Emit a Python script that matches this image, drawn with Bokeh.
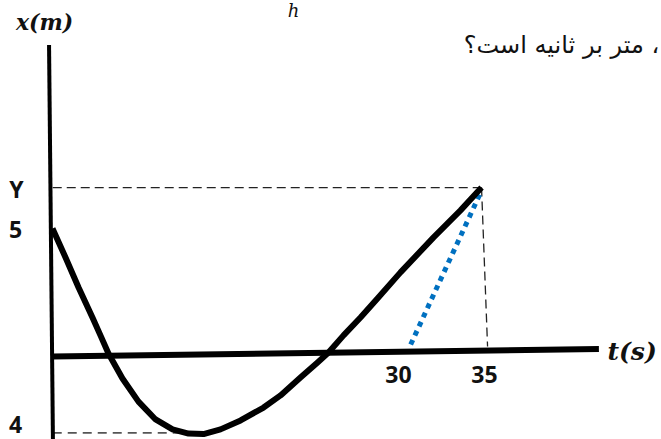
from bokeh.plotting import figure
from bokeh.models import Range1d
from bokeh.embed import file_html
from bokeh.resources import INLINE
from bokeh.core.properties import value

# ---- data (t in s, x in m) ----
curve_t = [0.08, 1.14, 2.20, 3.33, 3.98, 4.63, 5.77, 7.07, 8.46, 9.84, 11.14, 12.36, 13.74,
           15.37, 17.24, 18.62, 20.24, 21.63, 22.52, 23.74, 25.12, 26.50, 28.37, 31.06,
           33.25, 34.96]
curve_x = [5.00, 3.83, 2.62, 1.41, 0.69, -0.04, -1.05, -1.98, -2.70, -3.10, -3.27, -3.29, -3.10,
           -2.74, -2.22, -1.73, -1.01, -0.40, 0.00, 0.69, 1.41, 2.18, 3.23, 4.64,
           5.73, 6.65]

t_axis_t = [0.08, 44.5]
t_axis_x = [-0.16, 0.14]
x_axis_t = [-0.2, 0.12]
x_axis_x = [12.4, -3.7]

y_guide_t = [0.1, 34.96]
y_guide_x = [6.65, 6.65]
end_guide_t = [34.96, 35.45]
end_guide_x = [6.65, 0.24]
min_guide_t = [0.1, 11.3]
min_guide_x = [-3.24, -3.24]

secant_t = [29.2, 34.96]
secant_x = [0.32, 6.53]

tick_labels = ["Y", "5", "4", "30", "35"]
tick_label_t = [-2.85, -2.93, -2.93, 28.2, 35.2]
tick_label_x = [6.61, 4.96, -2.92, -0.89, -0.89]

x_title = ["x(m)"]
x_title_t = [-0.57]
x_title_x = [13.31]
t_title = ["t(s)"]
t_title_t = [47.2]
t_title_x = [0.04]

question_text = ["\u202B، متر بر ثانیه است؟\u202C"]
question_t = [49.4]
question_x = [12.38]

unit_text = ["h"]
unit_t = [19.67]
unit_x = [13.8]

p = figure(width=661, height=439,
           x_range=Range1d(-4.146, 49.59), y_range=Range1d(-3.508, 14.19),
           output_backend="svg", toolbar_location=None,
           x_axis_location=None, y_axis_location=None,
           min_border=0, outline_line_color=None,
           background_fill_color="white", border_fill_color="white")
p.grid.visible = False

# guide lines
p.line(y_guide_t, y_guide_x, line_color="#222222", line_width=1.3, line_dash="9 5")
p.line(end_guide_t, end_guide_x, line_color="#222222", line_width=1.3, line_dash="9 5")
p.line(min_guide_t, min_guide_x, line_color="#555555", line_width=1.6, line_dash="9 6")

# axes
p.line(x_axis_t, x_axis_x, line_color="black", line_width=4)
p.line(t_axis_t, t_axis_x, line_color="black", line_width=6)

# secant (dotted blue)
p.line(secant_t, secant_x, line_color="#0070C0", line_width=5, line_dash="5 5")

# curve
p.line(curve_t, curve_x, line_color="black", line_width=6, line_join="round")

# labels
p.text(tick_label_t, tick_label_x, text=tick_labels,
       text_font=value("Open Sans"), text_font_style="bold", text_font_size="23px",
       text_align="center", text_baseline="middle", text_color="#111111")

p.text(x_title_t, x_title_x, text=x_title,
       text_font=value("DejaVu Serif"), text_font_style="bold italic",
       text_font_size="22px", text_align="center", text_baseline="middle",
       text_color="#111111")

p.text(t_title_t, t_title_x, text=t_title,
       text_font=value("DejaVu Serif"), text_font_style="bold italic",
       text_font_size="25px", text_align="center", text_baseline="middle",
       text_color="#111111")

p.text(question_t, question_x, text=question_text,
       text_font=value("DejaVu Sans"), text_font_size="24px",
       text_align="right", text_baseline="middle", text_color="#111111")

p.text(unit_t, unit_x, text=unit_text,
       text_font=value("DejaVu Serif"), text_font_style="italic",
       text_font_size="18px", text_align="center", text_baseline="middle",
       text_color="#111111")

open("out.html", "w").write(file_html(p, INLINE))
